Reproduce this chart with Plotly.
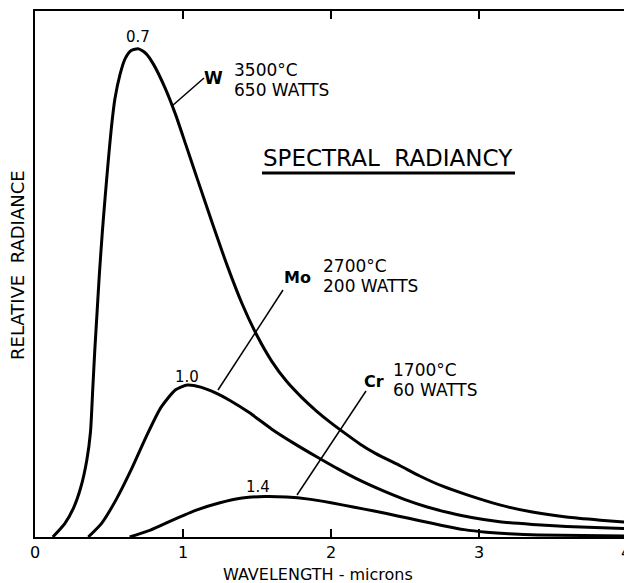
import plotly.graph_objects as go

# ---- data ----
w_x = [0.12, 0.20, 0.26, 0.31, 0.35, 0.375, 0.39, 0.405, 0.42, 0.435, 0.455, 0.475, 0.495, 0.515,
       0.54, 0.575, 0.61, 0.65, 0.70, 0.75, 0.80, 0.88, 0.95, 1.02, 1.10, 1.20, 1.30, 1.40, 1.50,
       1.60, 1.70, 1.80, 1.90, 2.00, 2.10, 2.20, 2.30, 2.47, 2.60, 2.75, 2.92, 3.14, 3.36, 3.59,
       3.82, 3.98]
w_y = [0.0, 2.5, 5.5, 9.5, 14.6, 20.0, 28.0, 36.0, 43.0, 50.0, 58.0, 65.0, 71.5, 77.5,
       83.3, 88.0, 91.0, 92.5, 92.8, 91.9, 89.9, 85.3, 80.3, 74.5, 67.8, 59.5, 51.5, 44.3, 38.3,
       33.4, 29.6, 26.6, 24.0, 21.7, 19.6, 17.6, 15.9, 13.5, 11.6, 9.7, 8.0, 6.1, 4.75, 3.8,
       3.2, 2.85]

mo_x = [0.36, 0.45, 0.55, 0.65, 0.75, 0.85, 0.95, 1.03, 1.12, 1.22, 1.32, 1.45, 1.60, 1.75, 1.90,
        2.05, 2.20, 2.35, 2.50, 2.65, 2.80, 2.95, 3.14, 3.36, 3.59, 3.98]
mo_y = [0.0, 2.6, 7.2, 12.8, 19.0, 24.6, 28.0, 28.9, 28.5, 27.4, 25.9, 23.6, 20.5, 17.8, 15.3,
        12.9, 10.7, 8.8, 7.1, 5.7, 4.6, 3.7, 2.9, 2.4, 2.0, 1.6]

cr_x = [0.64, 0.78, 0.93, 1.09, 1.25, 1.40, 1.55, 1.70, 1.85, 2.00, 2.15, 2.30, 2.45, 2.60, 2.75,
        2.90, 3.05, 3.20, 3.40, 3.70, 3.98]
cr_y = [0.0, 1.3, 3.2, 5.1, 6.5, 7.4, 7.7, 7.6, 7.2, 6.5, 5.7, 4.9, 4.0, 3.1, 2.2,
        1.4, 0.9, 0.6, 0.4, 0.3, 0.2]

x_ticks = [0, 1, 2, 3]
x_tick_labels = ["0", "1", "2", "3"]

# ---- layout helpers (pixel -> paper) ----
W, H = 624, 583
L, T, B = 35, 11, 537
R = W


def px(x):
    return (x - L) / (R - L)


def py(y):
    return (B - y) / (B - T)


FONT = "DejaVu Sans, Verdana, sans-serif"
NB = "\u00a0"

fig = go.Figure()
for xs, ys in [(w_x, w_y), (mo_x, mo_y), (cr_x, cr_y)]:
    fig.add_trace(go.Scatter(x=xs, y=ys, mode="lines",
                             line=dict(color="black", width=3, shape="spline", smoothing=0.6),
                             hoverinfo="skip", showlegend=False, cliponaxis=True))

ann = []


def text(x, y, s, size=15, bold=False, xanchor="center", angle=0):
    if bold:
        s = "<b>" + s + "</b>"
    ann.append(dict(x=px(x), y=py(y), xref="paper", yref="paper", text=s, showarrow=False,
                    xanchor=xanchor, yanchor="middle", textangle=angle,
                    font=dict(family=FONT, size=size, color="black"), align="left"))


text(138, 37, "0.7", 15)
text(187, 377, "1.0", 15)
text(258, 487, "1.4", 15)
text(213, 78, "W", 17, bold=True)
text(232, 70, "3500°C", 17, xanchor="left")
text(232, 90, "650 WATTS", 17, xanchor="left")
text(297, 277, "Mo", 16, bold=True)
text(321, 266, "2700°C", 17, xanchor="left")
text(321, 286, "200 WATTS", 17, xanchor="left")
text(374, 381, "Cr", 16, bold=True)
text(391, 370, "1700°C", 17, xanchor="left")
text(391, 390, "60 WATTS", 17, xanchor="left")
text(388, 158, "SPECTRAL" + NB + NB + "RADIANCY", 23)
text(17, 265, "RELATIVE" + NB + NB + "RADIANCE", 18, angle=-90)
text(318, 574, "WAVELENGTH - microns", 16)
text(626, 552, "4", 16)

shapes = []


def seg(x0, y0, x1, y1, w=1.5):
    shapes.append(dict(type="line", xref="paper", yref="paper", x0=px(x0), y0=py(y0),
                       x1=px(x1), y1=py(y1), line=dict(color="black", width=w)))


seg(172, 106, 204, 78)
seg(218, 390, 283, 290)
seg(297, 495, 366, 391)
seg(262, 173, 515, 173, 3)

fig.update_layout(
    width=W, height=H,
    margin=dict(l=L, r=W - R, t=T, b=H - B, pad=0),
    paper_bgcolor="white", plot_bgcolor="white",
    showlegend=False,
    annotations=ann, shapes=shapes,
    xaxis=dict(range=[0, (R - L) / 148.0], tickvals=x_ticks, ticktext=x_tick_labels,
               ticks="inside", ticklen=8, tickwidth=1.5, tickcolor="black",
               showline=True, linecolor="black", linewidth=2, mirror="ticks",
               showgrid=False, zeroline=False,
               tickfont=dict(family=FONT, size=16, color="black")),
    yaxis=dict(range=[0, 100], showticklabels=False, ticks="",
               showline=True, linecolor="black", linewidth=2, mirror=False,
               showgrid=False, zeroline=False),
)

fig.write_html("out.html", config={"displayModeBar": False},
               post_script="document.body.style.margin='0';document.body.style.padding='0';")
